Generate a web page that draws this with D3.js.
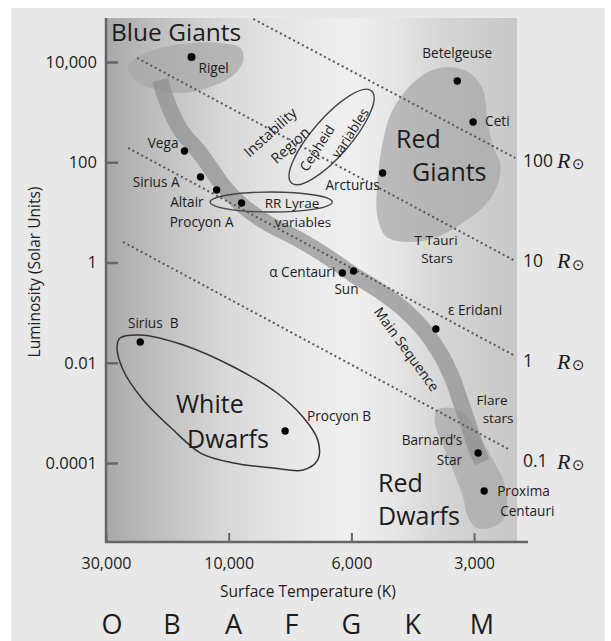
<!DOCTYPE html>
<html>
<head>
<meta charset="utf-8">
<script src="https://cdn.jsdelivr.net/npm/d3@7"></script>
<style>
  html, body { margin: 0; padding: 0; background: #fff; }
  svg { display: block; font-family: "Open Sans", "Noto Sans", sans-serif; }
</style>
</head>
<body>
<svg id="chart" width="611" height="641"></svg>
<script>
// ---- Axis ticks -----------------------------------------------------------
const tempTicks = [30000, 10000, 6000, 3000];
const tempTickLabels = ["30,000", "10,000", "6,000", "3,000"];
const lumTicks = [1e4, 100, 1, 0.01, 1e-4];
const lumTickLabels = ["10,000", "100", "1", "0.01", "0.0001"];

// ---- Spectral classes along the temperature axis -------------------------
const spectralClasses = ["O", "B", "A", "F", "G", "K", "M"];
const spectralTemps = [28400, 16600, 9800, 7700, 6000, 4240, 2870];

// ---- Named stars: temperature (K), luminosity (solar units) --------------
const starNames = ["Rigel", "Vega", "Sirius A", "Altair", "Procyon A", "Arcturus",
  "Betelgeuse", "Ceti", "α Centauri", "Sun", "ε Eridani", "Sirius B",
  "Procyon B", "Barnard's Star", "Proxima Centauri"];
const starTemps = [13950, 14860, 12870, 11140, 9480, 5030,
  3300, 3017, 6230, 5930, 3723, 22080,
  7907, 2932, 2834];
const starLums = [12600, 168, 50.8, 27.9, 15.4, 61,
  4180, 635, 0.617, 0.677, 0.0471, 0.0259,
  0.000435, 0.000158, 0.0000276];

// ---- Lines of constant radius: [T, L] at each end -------------------------
const radiusLabels = ["100", "10", "1", "0.1"];
const radiusLabelLums = [100, 1, 0.01, 1e-4];
const radiusLineStart = [[9022, 72100], [22700, 12020], [24610, 192.5], [25740, 2.565]];
const radiusLineEnd = [[2377, 121.6], [2404, 1.122], [2404, 0.01429], [2474, 0.00019]];

// ---- Main sequence centre line [T, L] ------------------------------------
const mainSequence = [
  [18450, 4375], [17480, 1746], [15400, 440], [13220, 175], [11760, 76.7],
  [10560, 35.2], [9517, 14.7], [8585, 6.43], [7432, 2.81], [6624, 1.29],
  [5966, 0.59], [5118, 0.27], [4441, 0.113], [3964, 0.043], [3640, 0.0157],
  [3401, 0.0052], [3249, 0.00181], [3123, 0.000721], [2983, 0.000229], [2868, 0.000105]
];

// ---- Region outlines [T, L] ----------------------------------------------
const blueGiantRegion = [
  [24610, 7590], [22700, 12590], [18450, 19000], [14080, 23930], [10750, 23930],
  [9517, 19000], [9402, 10960], [9797, 5510], [11760, 3170], [15000, 2410],
  [18960, 2760], [22700, 3990]
];
const redGiantRegion = [
  [3439, 7950], [3070, 6040], [2851, 2760], [2787, 800], [2694, 201],
  [2588, 96.6], [2618, 38.5], [2787, 15.4], [3123, 7.05], [3703, 3.23],
  [4315, 2.56], [4919, 3.23], [5178, 8.09], [5178, 38.5], [5031, 242],
  [4753, 1100], [4243, 3810], [3788, 6920]
];
const redDwarfRegion = [
  [3703, 0.00114], [3381, 0.00125], [3123, 0.000828], [2900, 0.00033],
  [2694, 0.000115], [2545, 4.58e-5], [2488, 1.59e-5], [2545, 7.3e-6],
  [2740, 5.05e-6], [2950, 5.05e-6], [3105, 8.38e-6], [3194, 2.1e-5],
  [3381, 7.24e-5], [3599, 0.000251], [3745, 0.000628]
];
const whiteDwarfRegion = [
  [26450, 0.0312], [22090, 0.0358], [15000, 0.0226], [9797, 0.00822],
  [8175, 0.00249], [7340, 0.000828], [6902, 0.000288], [6902, 0.000115],
  [7340, 7.24e-5], [8307, 7.95e-5], [9797, 1.0e-4], [12870, 1.58e-4],
  [16410, 4.55e-4], [21500, 0.00181], [25740, 0.00716], [27180, 0.0206]
];
// Variable-star loops: centre [T, L]
const cepheidCentre = [6516, 319];
const rrLyraeCentre = [8378, 16.1];

// ---- Layout ---------------------------------------------------------------
const svg = d3.select("#chart");
const plot = { left: 106, right: 517, top: 18, bottom: 542 };
const tickGap = 122.7;
const ink = "#1c1c1c";

const x = d3.scaleLog()
  .domain(tempTicks)
  .range(tempTicks.map((d, i) => plot.left + i * tickGap));
const y = d3.scaleLog()
  .domain([1e-4, 1e4])
  .range([463, 62]);

const px = d => [x(d[0]), y(d[1])];

// page background
svg.append("rect").attr("x", 11).attr("y", 8).attr("width", 594).attr("height", 633)
  .attr("fill", "#e8e8e8");

// plot background gradient
const defs = svg.append("defs");
const grad = defs.append("linearGradient").attr("id", "bg")
  .attr("x1", "0").attr("x2", "1").attr("y1", "0").attr("y2", "0");
[[0, "#a9a9a9"], [0.12, "#bebebe"], [0.3, "#d9d9d9"], [0.5, "#ebebeb"],
 [0.6, "#f0f0f0"], [0.7, "#e6e6e6"], [0.82, "#d5d5d5"], [1, "#c7c7c7"]]
  .forEach(s => grad.append("stop").attr("offset", s[0]).attr("stop-color", s[1]));

svg.append("rect")
  .attr("x", plot.left).attr("y", plot.top)
  .attr("width", plot.right - plot.left).attr("height", plot.bottom - plot.top)
  .attr("fill", "url(#bg)");

// shaded regions
const closed = d3.line().x(d => px(d)[0]).y(d => px(d)[1])
  .curve(d3.curveCatmullRomClosed.alpha(0.5));
[blueGiantRegion, redGiantRegion, redDwarfRegion].forEach(r => {
  svg.append("path").attr("d", closed(r))
    .attr("fill", "#a6a6a6").attr("fill-opacity", 0.7);
});

// main sequence band
const open = d3.line().x(d => px(d)[0]).y(d => px(d)[1])
  .curve(d3.curveCatmullRom.alpha(0.5));
svg.append("path").attr("d", open(mainSequence))
  .attr("fill", "none").attr("stroke", "#8c8c8c").attr("stroke-opacity", 0.68)
  .attr("stroke-width", 16).attr("stroke-linecap", "butt");

// white dwarf outline
svg.append("path").attr("d", closed(whiteDwarfRegion))
  .attr("fill", "none").attr("stroke", "#333").attr("stroke-width", 1.5);

// variable star loops
svg.append("ellipse")
  .attr("cx", x(cepheidCentre[0])).attr("cy", y(cepheidCentre[1]))
  .attr("rx", 61).attr("ry", 19)
  .attr("transform", `rotate(-49 ${x(cepheidCentre[0])} ${y(cepheidCentre[1])})`)
  .attr("fill", "none").attr("stroke", "#444").attr("stroke-width", 1.4);
svg.append("ellipse")
  .attr("cx", x(rrLyraeCentre[0])).attr("cy", y(rrLyraeCentre[1]))
  .attr("rx", 61).attr("ry", 10)
  .attr("fill", "none").attr("stroke", "#444").attr("stroke-width", 1.4);

// constant radius lines
radiusLineStart.forEach((s, i) => {
  const a = px(s), b = px(radiusLineEnd[i]);
  svg.append("line")
    .attr("x1", a[0]).attr("y1", a[1]).attr("x2", b[0]).attr("y2", b[1])
    .attr("stroke", "#555").attr("stroke-width", 2)
    .attr("stroke-dasharray", "2 3");
});

// stars
starNames.forEach((n, i) => {
  svg.append("circle")
    .attr("cx", x(starTemps[i])).attr("cy", y(starLums[i]))
    .attr("r", n === "Rigel" ? 4 : 3.7).attr("fill", "#000");
});

// star labels: offset from the dot, anchor, and lines of text
const starLabelStyle = {
  "Rigel": [7, 16, "start", ["Rigel"]],
  "Vega": [-6, -3, "end", ["Vega"]],
  "Sirius A": [-21, 10, "end", ["Sirius A"]],
  "Altair": [-13, 17, "end", ["Altair"]],
  "Procyon A": [-8, 24, "end", ["Procyon A"]],
  "Arcturus": [-3, 17, "end", ["Arcturus"]],
  "Betelgeuse": [0, -23, "middle", ["Betelgeuse"]],
  "Ceti": [12, 4, "start", ["Ceti"]],
  "α Centauri": [-7, 4, "end", ["α Centauri"]],
  "Sun": [-7, 23, "middle", ["Sun"]],
  "ε Eridani": [12, -14, "start", ["ε Eridani"]],
  "Sirius B": [13, -14, "middle", ["Sirius  B"]],
  "Procyon B": [22, -10, "start", ["Procyon B"]],
  "Barnard's Star": [-16, -8, "end", ["Barnard’s", "Star"]],
  "Proxima Centauri": [13, 5, "start", ["Proxima", "Centauri"]]
};
starNames.forEach((n, i) => {
  const [dx, dy, anchor, lines] = starLabelStyle[n];
  const t = svg.append("text")
    .attr("x", x(starTemps[i]) + dx).attr("y", y(starLums[i]) + dy)
    .attr("text-anchor", anchor).attr("fill", ink)
    .style("font-size", "13.6px").attr("xml:space", "preserve");
  lines.forEach((l, j) => {
    t.append("tspan").attr("x", x(starTemps[i]) + dx + (j && n === "Proxima Centauri" ? 3 : 0))
      .attr("dy", j ? 20 : 0).text(l);
  });
});

// region labels
function label(txt, lx, ly, size, opts = {}) {
  const t = svg.append("text").attr("x", lx).attr("y", ly)
    .attr("fill", ink)
    .attr("text-anchor", opts.anchor || "start")
    .style("font-size", size + "px").text(txt);
  if (opts.rotate !== undefined) {
    t.attr("text-anchor", "middle").attr("dominant-baseline", "central")
      .attr("transform", `rotate(${opts.rotate} ${lx} ${ly})`);
  }
  return t;
}
label("Blue Giants", 111, 41, 24.5);
label("Red", 396, 148, 25);
label("Giants", 412, 181, 25);
label("White", 176, 413, 25);
label("Dwarfs", 187, 448, 25);
label("Red", 378, 492, 25);
label("Dwarfs", 378, 525, 25);
label("Instability", 270, 132, 14.5, { rotate: -42 });
label("Region", 290, 145, 14.5, { rotate: -42 });
label("Cepheid", 317, 148, 13.5, { rotate: -57 });
label("variables", 350, 133, 13.5, { rotate: -57 });
label("RR Lyrae", 292, 208, 13.5, { anchor: "middle" });
label("variables", 303, 227, 13.5, { anchor: "middle" });
label("Main Sequence", 407, 349, 14, { rotate: 54 });
label("T Tauri", 436, 245, 13.5, { anchor: "middle" });
label("Stars", 437, 263, 13.5, { anchor: "middle" });
label("Flare", 492, 405, 13.5, { anchor: "middle" });
label("stars", 498, 423, 13.5, { anchor: "middle" });

// radius labels
radiusLabels.forEach((lab, i) => {
  const yy = y(radiusLabelLums[i]) - 2;
  const num = svg.append("text").attr("x", 523).attr("y", yy).attr("dy", "0.36em")
    .attr("fill", ink).style("font-size", "17.5px").text(lab);
  const w = num.node().getComputedTextLength();
  const rx = Math.max(557, 523 + w + 3);
  svg.append("text").attr("x", rx).attr("y", yy).attr("dy", "0.36em")
    .attr("fill", ink)
    .style("font-family", "'Liberation Serif', 'DejaVu Serif', serif")
    .style("font-style", "italic").style("font-size", "22px").text("R");
  svg.append("text").attr("x", rx + 15).attr("y", yy + 9)
    .attr("fill", ink)
    .style("font-family", "'DejaVu Sans', sans-serif")
    .style("font-size", "15px").text("⊙");
});

// axes
const xAxis = d3.axisBottom(x).tickValues(tempTicks)
  .tickFormat((d, i) => tempTickLabels[i]).tickSize(-9).tickPadding(16);
const gx = svg.append("g").attr("transform", `translate(0,${plot.bottom})`).call(xAxis);
gx.select(".domain").remove();
gx.selectAll(".tick line").attr("stroke", "#666").attr("stroke-width", 2);
gx.selectAll(".tick text").attr("fill", ink)
  .style("font-family", "'Open Sans', sans-serif").style("font-size", "16px");

const yAxis = d3.axisLeft(y).tickValues(lumTicks)
  .tickFormat((d, i) => lumTickLabels[i]).tickSize(-12).tickPadding(9);
const gy = svg.append("g").attr("transform", `translate(${plot.left},0)`).call(yAxis);
gy.select(".domain").remove();
gy.selectAll(".tick line").attr("stroke", "#666").attr("stroke-width", 2.5);
gy.selectAll(".tick text").attr("fill", ink)
  .style("font-family", "'Open Sans', sans-serif").style("font-size", "16.5px");

svg.append("line").attr("x1", plot.left).attr("x2", plot.left)
  .attr("y1", plot.top).attr("y2", plot.bottom + 1)
  .attr("stroke", "#666").attr("stroke-width", 2.5);
svg.append("line").attr("x1", plot.left - 1).attr("x2", 528)
  .attr("y1", plot.bottom).attr("y2", plot.bottom)
  .attr("stroke", "#666").attr("stroke-width", 2.5);

// axis titles
svg.append("text").attr("x", 308).attr("y", 597).attr("text-anchor", "middle")
  .attr("fill", ink).style("font-size", "15.5px").text("Surface Temperature (K)");
svg.append("text").attr("transform", "translate(40,272) rotate(-90)")
  .attr("text-anchor", "middle").attr("fill", ink)
  .style("font-size", "15.5px").text("Luminosity (Solar Units)");

// spectral classes
spectralClasses.forEach((c, i) => {
  svg.append("text").attr("x", x(spectralTemps[i])).attr("y", 634)
    .attr("text-anchor", "middle").attr("fill", ink)
    .style("font-size", "27px").text(c);
});
</script>
</body>
</html>
